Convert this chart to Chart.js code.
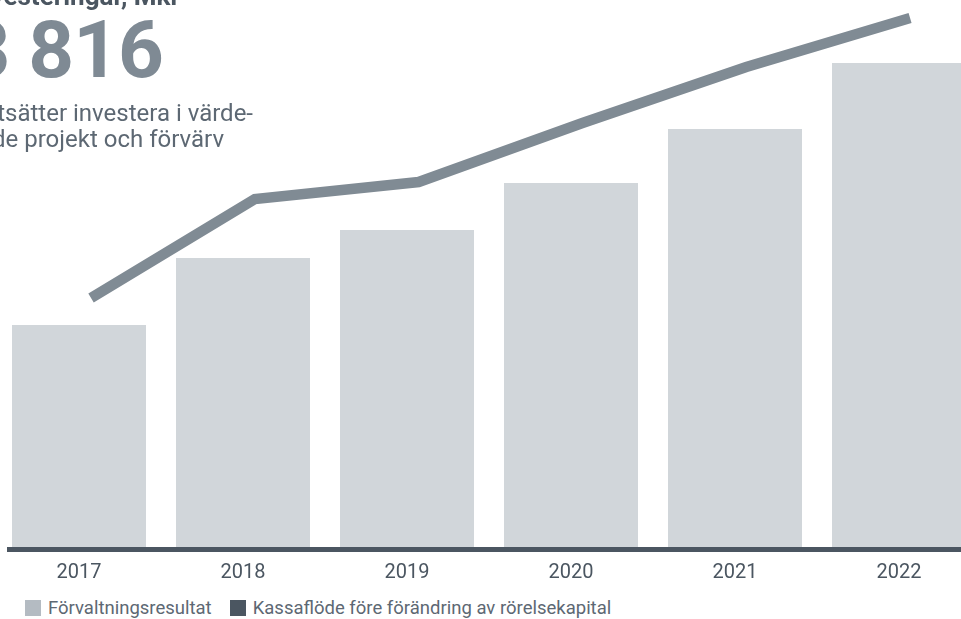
<!DOCTYPE html>
<html><head><meta charset="utf-8">
<script src="https://cdn.jsdelivr.net/npm/chart.js@4"></script>
<style>
html,body{margin:0;padding:0;width:961px;height:619px;overflow:hidden;background:#fff;font-family:Roboto,"Noto Sans",sans-serif;}
#wrap{position:absolute;left:-3px;top:0;width:984px;height:590px;}
.t{position:absolute;white-space:nowrap;line-height:1;}
#title{font-weight:700;font-size:26px;color:#4b5661;right:781px;top:-17px;}
#big{font-weight:700;font-size:80px;color:#7f8a94;right:798px;top:10px;letter-spacing:-1px;}
.sub{font-size:24px;color:#5d6873;letter-spacing:0px;}
#s1{right:708px;top:101px;}
#s2{right:737px;top:127px;}
#legend{position:absolute;left:25px;top:598px;font-size:18.5px;line-height:20px;color:#5d6873;display:flex;align-items:center;}
#legend .b{display:inline-block;width:16px;height:16px;margin-right:7px;}
#legend .i{display:flex;align-items:center;margin-right:18px;}
</style></head>
<body>
<div id="wrap"><canvas id="c"></canvas></div>
<div class="t" id="title">Investeringar, Mkr</div>
<div class="t" id="big">3 816</div>
<div class="t sub" id="s1">Vi fortsätter investera i värde-</div>
<div class="t sub" id="s2">skapande projekt och förvärv</div>
<div id="legend"></div>
<script>
const categories = ['2017','2018','2019','2020','2021','2022'];
const forvaltningsresultat = [1110, 1445, 1585, 1820, 2090, 2420];
const kassaflode = [1245, 1740, 1825, 2120, 2400, 2645];
const seriesNames = ['Förvaltningsresultat', 'Kassaflöde före förändring av rörelsekapital'];
const legendColors = ['#b4bbc2', '#4b5661'];

const lg = document.getElementById('legend');
seriesNames.forEach((n,i)=>{
  const d=document.createElement('span'); d.className='i';
  d.innerHTML='<span class="b" style="background:'+legendColors[i]+'"></span>'+n;
  lg.appendChild(d);
});

const baseline = {
  id:'baseline',
  afterDatasetsDraw(chart){
    const {ctx, chartArea} = chart;
    ctx.save();
    ctx.fillStyle = '#4b5661';
    ctx.fillRect(chartArea.left + 10, chartArea.bottom, chartArea.right - chartArea.left, 5);
    ctx.restore();
  }
};

new Chart(document.getElementById('c'), {
  type:'bar',
  data:{
    labels: categories,
    datasets:[
      {type:'line', label:seriesNames[1], data: categories.map((c,i)=>({x:Number(c), y:kassaflode[i]})),
       xAxisID:'x2', borderColor:'#808b94', borderWidth:10.5, borderCapStyle:'butt', borderJoinStyle:'miter',
       pointRadius:0, tension:0, fill:false, clip:false, order:0},
      {label:seriesNames[0], data: forvaltningsresultat, backgroundColor:'#d1d6da', borderWidth:0,
       categoryPercentage:1, barPercentage:0.817, grouped:false, order:1}
    ]
  },
  options:{
    responsive:true, maintainAspectRatio:false, animation:false,
    layout:{padding:0},
    plugins:{legend:{display:false}, tooltip:{enabled:false}},
    scales:{
      x:{grid:{display:false, drawTicks:false}, border:{display:false},
         ticks:{color:'#4b5661', font:{family:'Roboto', size:20}, padding:14},
         afterFit(s){ s.height = 43; }},
      x2:{type:'linear', display:false, offset:false, bounds:'data', min:2016.426, max:2022.433},
      y:{display:false, min:0, max:2735}
    }
  },
  plugins:[baseline]
});
</script>
</body></html>
